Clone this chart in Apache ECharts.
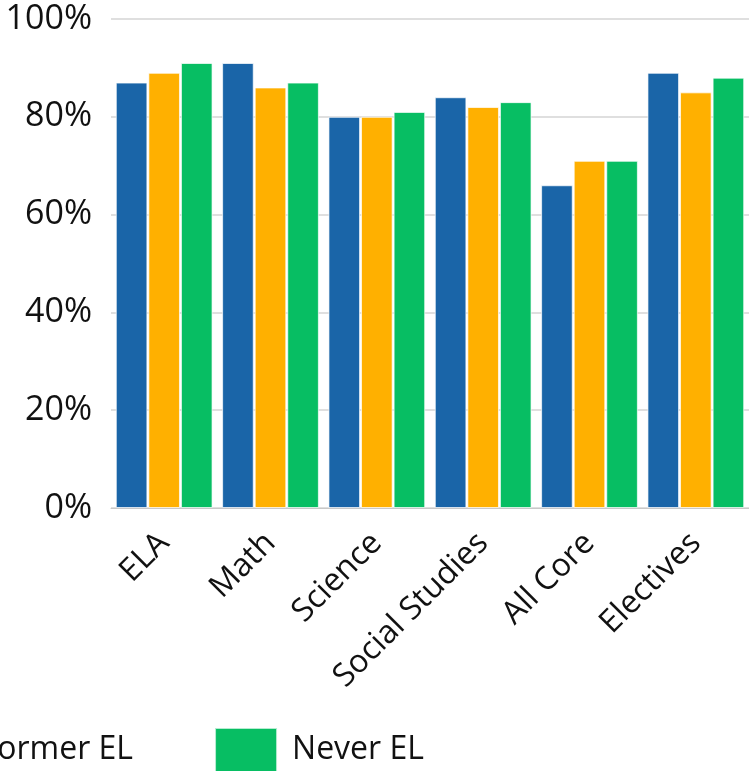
<!DOCTYPE html>
<html>
<head>
<meta charset="utf-8">
<script src="https://cdn.jsdelivr.net/npm/echarts@6/dist/echarts.min.js"></script>
<style>
  html, body { margin: 0; padding: 0; background: #fff; }
  #chart { width: 749px; height: 771px; }
</style>
</head>
<body>
<div id="chart"></div>
<script>
const categories = ['ELA', 'Math', 'Science', 'Social Studies', 'All Core', 'Electives'];
const currentEL = [87, 91, 80, 84, 66, 89];
const formerEL = [89, 86, 80, 82, 71, 85];
const neverEL = [91, 87, 81, 83, 71, 88];
const yTicks = [0, 20, 40, 60, 80, 100];

const chart = echarts.init(document.getElementById('chart'));
const font = 'Open Sans';
const barBorder = { borderColor: 'rgba(255,255,255,0.7)', borderWidth: 1 };

chart.setOption({
  animation: false,
  textStyle: { fontFamily: font },
  grid: { left: 111, right: 0, top: 19, bottom: 263 },
  legend: {
    left: -414,
    top: 727,
    padding: 0,
    itemWidth: 62,
    itemHeight: 44,
    itemGap: 81,
    icon: 'rect',
    textStyle: { fontFamily: font, fontSize: 32, color: '#111', padding: [0, 0, 16, 10] },
    data: ['Current EL', 'Former EL', 'Never EL']
  },
  xAxis: {
    type: 'category',
    data: categories,
    axisTick: { show: false },
    axisLine: { lineStyle: { color: '#c8c8c8', width: 1 } },
    axisLabel: { rotate: 45, fontSize: 32, color: '#111', margin: 30, fontFamily: font }
  },
  yAxis: {
    type: 'value',
    min: yTicks[0],
    max: yTicks[yTicks.length - 1],
    interval: 20,
    axisLine: { show: false },
    axisTick: { show: false },
    axisLabel: { fontSize: 34, color: '#111', margin: 19, formatter: '{value}%', fontFamily: font },
    splitLine: { lineStyle: { color: '#d4d4d4', width: 1.5 } }
  },
  series: [
    { name: 'Current EL', type: 'bar', data: currentEL, barGap: '3%', barCategoryGap: '9%',
      itemStyle: Object.assign({ color: '#1a65a8' }, barBorder) },
    { name: 'Former EL', type: 'bar', data: formerEL,
      itemStyle: Object.assign({ color: '#ffb000' }, barBorder) },
    { name: 'Never EL', type: 'bar', data: neverEL,
      itemStyle: Object.assign({ color: '#07be63' }, barBorder) }
  ]
});
</script>
</body>
</html>
